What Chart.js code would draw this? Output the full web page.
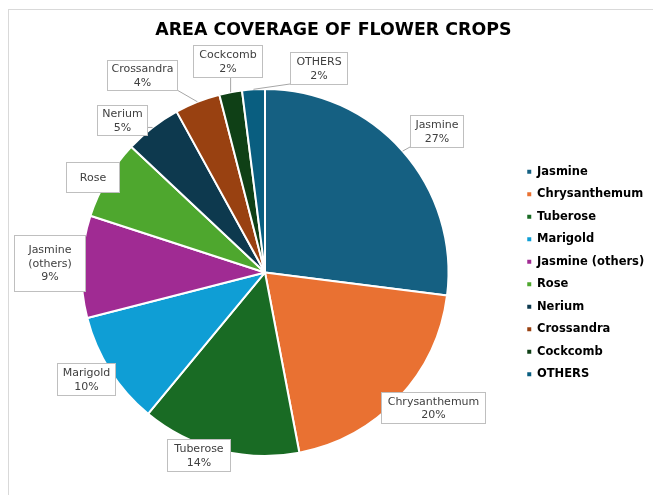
<!DOCTYPE html>
<html>
<head>
<meta charset="utf-8">
<script src="https://cdn.jsdelivr.net/npm/chart.js@4"></script>
<style>
  html, body { margin: 0; padding: 0; background: #fff; overflow: hidden; }
  #frame { position: absolute; left: 8px; top: 9px; width: 700px; height: 520px;
           border-left: 1px solid #d9d9d9; border-top: 1px solid #d9d9d9; }
  #chart { position: absolute; left: 9px; top: 10px; }
</style>
</head>
<body>
<div id="frame"></div>
<canvas id="chart" width="644" height="485"></canvas>
<script>
const categories = ['Jasmine', 'Chrysanthemum', 'Tuberose', 'Marigold', 'Jasmine (others)',
                    'Rose', 'Nerium', 'Crossandra', 'Cockcomb', 'OTHERS'];
const shares = [27, 20, 14, 10, 9, 7, 5, 4, 2, 2];
const sliceColors = ['#156082', '#E97132', '#196B24', '#0F9ED5', '#A02B93',
                     '#4EA72E', '#0D394E', '#994111', '#0F4016', '#095E80'];

// callout layout per slice: [radius factor, angle shift (deg), box w, box h, leader line, show %]
const labelLayout = [
  [1.21, 1.9, 53, 32, true, true],
  [1.174, -4.4, 104, 31, false, true],
  [1.058, 5.6, 63, 32, false, true],
  [1.135, 1.65, 58, 32, false, true],
  [1.175, 0.7, 71, 56, false, true],
  [1.075, -1.6, 53, 30, false, false],
  [1.14, -5.4, 50, 30, true, true],
  [1.27, -10.3, 70, 30, true, true],
  [1.17, 0.7, 69, 32, true, true],
  [1.15, 18.3, 57, 32, true, true]
];

const LEGEND_W = 136.75;
const LEGEND_DY = 20.5;

const legendBox = {
  id: 'legendBox',
  afterInit(chart) {
    const lg = chart.legend;
    const fit = lg.fit;
    lg.fit = function () { fit.call(this); this.width = LEGEND_W; };
  },
  afterLayout(chart) {
    chart.legend.top += LEGEND_DY;
    chart.legend.bottom += LEGEND_DY;
  }
};

const calloutLabels = {
  id: 'calloutLabels',
  afterDatasetsDraw(chart) {
    const ctx = chart.ctx;
    const arcs = chart.getDatasetMeta(0).data;
    ctx.save();
    ctx.font = '11px "DejaVu Sans"';
    arcs.forEach((arc, i) => {
      const [k, shift, w, h, leader, pct] = labelLayout[i];
      const p = arc.getProps(['x', 'y', 'startAngle', 'endAngle', 'outerRadius']);
      const mid = (p.startAngle + p.endAngle) / 2;
      const a = mid + shift * Math.PI / 180;
      const cx = p.x + Math.cos(a) * p.outerRadius * k;
      const cy = p.y + Math.sin(a) * p.outerRadius * k;
      const left = Math.round(cx - w / 2), top = Math.round(cy - h / 2);
      if (leader) {
        const ax = p.x + Math.cos(mid) * p.outerRadius;
        const ay = p.y + Math.sin(mid) * p.outerRadius;
        const bx = Math.min(Math.max(ax, left), left + w);
        const by = Math.min(Math.max(ay, top), top + h);
        ctx.strokeStyle = '#a6a6a6';
        ctx.lineWidth = 1;
        ctx.beginPath();
        ctx.moveTo(ax, ay);
        ctx.lineTo(bx, by);
        ctx.stroke();
      }
      ctx.fillStyle = '#fff';
      ctx.fillRect(left, top, w, h);
      ctx.strokeStyle = '#bfbfbf';
      ctx.lineWidth = 1;
      ctx.strokeRect(left + 0.5, top + 0.5, w, h);
      const lines = categories[i].replace(' (', '\n(').split('\n');
      if (pct) lines.push(shares[i] + '%');
      ctx.fillStyle = '#404040';
      ctx.textAlign = 'center';
      ctx.textBaseline = 'middle';
      lines.forEach((t, j) => {
        ctx.fillText(t, left + w / 2 + 0.5, top + h / 2 + 1 + (j - (lines.length - 1) / 2) * 13.5);
      });
    });
    ctx.restore();
  }
};

new Chart(document.getElementById('chart'), {
  type: 'pie',
  data: {
    labels: categories,
    datasets: [{
      data: shares,
      backgroundColor: sliceColors,
      borderColor: '#fff',
      borderWidth: 2
    }]
  },
  options: {
    responsive: false,
    animation: false,
    radius: 183.5,
    layout: { padding: { left: 4.75, right: 0, top: 0, bottom: 0 } },
    plugins: {
      title: {
        display: true,
        text: 'AREA COVERAGE OF FLOWER CROPS',
        color: '#000',
        font: { family: 'DejaVu Sans', size: 17.4, weight: 'bold' },
        padding: { top: 10.5, bottom: 8.5 }
      },
      legend: {
        position: 'right',
        labels: {
          boxWidth: 4,
          boxHeight: 4,
          padding: 11,
          color: '#262626',
          font: { family: 'DejaVu Sans', size: 11.5, weight: 'bold' },
          generateLabels(chart) {
            return categories.map((c, i) => ({
              text: c, fillStyle: sliceColors[i], strokeStyle: sliceColors[i],
              lineWidth: 0, hidden: false, index: i
            }));
          }
        }
      },
      tooltip: { enabled: false }
    }
  },
  plugins: [legendBox, calloutLabels]
});
</script>
</body>
</html>
